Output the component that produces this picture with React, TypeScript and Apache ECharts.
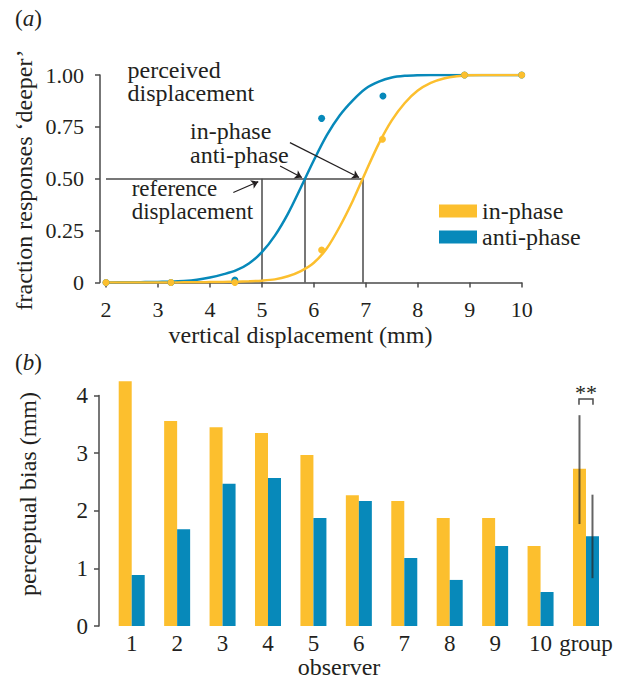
import React, { useEffect, useRef } from 'react';
import * as echarts from 'echarts';

const ORANGE = '#FCBF2E';
const BLUE = '#0789BA';
const INK = '#231F20';
const GREY = '#4A4A4A';
const FONT = "'Liberation Serif', 'Times New Roman', serif";

// ---------- panel (a): psychometric functions ----------
const inPhasePoints = [[2, 0], [3.25, 0], [4.48, 0], [6.15, 0.157], [7.32, 0.69], [8.9, 1], [10, 1]];
const antiPhasePoints = [[2, 0], [3.25, 0], [4.48, 0.012], [6.15, 0.791], [7.33, 0.899], [8.9, 1], [10, 1]];

// fitted curves, every 0.25 mm
const fitX = [
  2, 2.25, 2.5, 2.75, 3, 3.25, 3.5, 3.75, 4, 4.25, 4.5, 4.75, 5, 5.25, 5.5, 5.75, 6, 6.25,
  6.5, 6.75, 7, 7.25, 7.5, 7.75, 8, 8.25, 8.5, 8.75, 9, 9.25, 9.5, 9.75, 10,
];
const inPhaseFitY = [
  0, 0, 0, 0, 0, 0, 0.001, 0.001, 0.002, 0.003, 0.004, 0.006, 0.009, 0.015, 0.03, 0.055, 0.095,
  0.165, 0.27, 0.394, 0.534, 0.669, 0.781, 0.865, 0.925, 0.962, 0.983, 0.994, 0.999, 1, 1, 1, 1,
];
const antiPhaseFitY = [
  0, 0.001, 0.001, 0.002, 0.003, 0.004, 0.007, 0.013, 0.024, 0.039, 0.058, 0.092, 0.146, 0.226,
  0.331, 0.458, 0.589, 0.71, 0.806, 0.878, 0.935, 0.968, 0.988, 0.996, 0.999, 1, 1, 1, 1, 1, 1, 1, 1,
];

const referenceDisplacement = 5.0;
const antiPhasePSE = 5.83;
const inPhasePSE = 6.94;

const guideLines = [
  [[2, 0.5], [inPhasePSE, 0.5]],
  [[referenceDisplacement, 0], [referenceDisplacement, 0.5]],
  [[antiPhasePSE, 0], [antiPhasePSE, 0.5]],
  [[inPhasePSE, 0], [inPhasePSE, 0.5]],
];
const arrowLines = [
  [[4.45, 0.434], [4.93, 0.486]],
  [[5.35, 0.561], [5.77, 0.506]],
  [[5.54, 0.674], [6.87, 0.506]],
];

const xTicksA = { min: 2, max: 10, interval: 1 };
const yTicksA = { min: 0, max: 1, interval: 0.25 };

// ---------- panel (b): perceptual bias ----------
const observers = ['1', '2', '3', '4', '5', '6', '7', '8', '9', '10', 'group'];
const inPhaseBias = [4.25, 3.56, 3.45, 3.35, 2.97, 2.27, 2.17, 1.875, 1.875, 1.39, 2.73];
const antiPhaseBias = [0.885, 1.68, 2.47, 2.57, 1.875, 2.17, 1.18, 0.8, 1.39, 0.59, 1.56];
const groupErrorBars = [
  ['group', 1.77, 3.66, -1],
  ['group', 0.83, 2.28, 1],
];
const significance = [['group', 3.84, 3.94, 4.05, '**']];

const font = (size: number, italic = false) => `${italic ? 'italic ' : ''}${size}px ${FONT}`;

function txt(text: string, x: number, y: number, o: any = {}) {
  const size = o.size || 24;
  return {
    type: 'text',
    x,
    y,
    rotation: o.rotation || 0,
    z: 10,
    style: {
      legacy: false,
      text,
      font: font(size),
      fontSize: size,
      fontFamily: FONT,
      fill: INK,
      align: o.align || 'left',
      verticalAlign: 'middle',
      lineHeight: o.lineHeight,
      rich: o.rich,
    },
  };
}

export default function App() {
  const ref = useRef<HTMLDivElement>(null);

  useEffect(() => {
    document.body.style.margin = '0';
    const chart = echarts.init(ref.current!, null, { renderer: 'svg' });
    const axisLineStyle = { color: GREY, width: 1.5 };
    const richAB = {
      n: { font: font(23), fontSize: 23, fontFamily: FONT, fill: INK, color: INK },
      i: { font: font(23, true), fontSize: 23, fontFamily: FONT, fontStyle: 'italic', fill: INK, color: INK },
    };

    const option: any = {
      animation: false,
      textStyle: { fontFamily: FONT, color: INK },
      grid: [
        { left: 106, top: 75, width: 415.7, height: 207.5 },
        { left: 109, top: 395.6, width: 499.7, height: 230.4 },
      ],
      xAxis: [
        {
          type: 'value', gridIndex: 0, ...xTicksA, offset: 6.5,
          axisLine: { show: true, lineStyle: axisLineStyle },
          axisTick: { show: true, length: 5, lineStyle: axisLineStyle },
          axisLabel: { margin: 9, fontSize: 22, color: INK, fontFamily: FONT },
          splitLine: { show: false },
        },
        {
          type: 'category', gridIndex: 1, data: observers,
          axisLine: { show: false }, axisTick: { show: false },
          axisLabel: { margin: 6, fontSize: 23, color: INK, fontFamily: FONT, interval: 0 },
          splitLine: { show: false },
        },
      ],
      yAxis: [
        {
          type: 'value', gridIndex: 0, ...yTicksA, offset: 6,
          axisLine: { show: true, lineStyle: axisLineStyle },
          axisTick: { show: true, length: 5, lineStyle: axisLineStyle },
          axisLabel: {
            margin: 16, fontSize: 22, color: INK, fontFamily: FONT,
            formatter: (v: number) => (v === 0 ? '0' : v.toFixed(2)),
          },
          splitLine: { show: false },
        },
        {
          type: 'value', gridIndex: 1, min: 0, max: 4, interval: 1, offset: 10,
          axisLine: { show: true, lineStyle: axisLineStyle },
          axisTick: { show: true, length: 5, lineStyle: axisLineStyle },
          axisLabel: { margin: 11, fontSize: 23, color: INK, fontFamily: FONT },
          splitLine: { show: false },
        },
      ],
      legend: {
        orient: 'vertical', left: 439, top: 198, padding: 0,
        itemWidth: 38, itemHeight: 13, itemGap: 0, selectedMode: false,
        data: [{ name: 'in-phase', icon: 'rect' }, { name: 'anti-phase', icon: 'rect' }],
        textStyle: { fontSize: 24, fontFamily: FONT, color: INK, lineHeight: 26 },
      },
      graphic: [
        txt('{n|(}{i|a}{n|)}', 15, 18.7, { rich: richAB }),
        txt('{n|(}{i|b}{n|)}', 15, 362.7, { rich: richAB }),
        txt('fraction responses ‘deeper’', 24, 180, { rotation: Math.PI / 2, align: 'center' }),
        txt('vertical displacement (mm)', 300.5, 335.4, { align: 'center' }),
        txt('perceived\ndisplacement', 127.5, 81.2, { lineHeight: 23.4 }),
        txt('in-phase\nanti-phase', 190, 142.5, { lineHeight: 24 }),
        txt('reference\ndisplacement', 131.7, 200.2, { lineHeight: 23, size: 23 }),
        txt('perceptual bias (mm)', 28, 494, { rotation: Math.PI / 2, align: 'center' }),
        txt('observer', 339, 667, { align: 'center' }),
      ],
      series: [
        {
          name: 'anti-phase fit', type: 'line', xAxisIndex: 0, yAxisIndex: 0,
          data: fitX.map((x, i) => [x, antiPhaseFitY[i]]), showSymbol: false, smooth: 0.3,
          lineStyle: { color: BLUE, width: 2.5 }, itemStyle: { color: BLUE }, z: 3,
        },
        {
          name: 'in-phase fit', type: 'line', xAxisIndex: 0, yAxisIndex: 0,
          data: fitX.map((x, i) => [x, inPhaseFitY[i]]), showSymbol: false, smooth: 0.3,
          lineStyle: { color: ORANGE, width: 2.5 }, itemStyle: { color: ORANGE }, z: 4,
        },
        {
          name: 'anti-phase data', type: 'scatter', xAxisIndex: 0, yAxisIndex: 0,
          data: antiPhasePoints, symbolSize: 7, itemStyle: { color: BLUE, opacity: 1 }, z: 5,
        },
        {
          name: 'in-phase data', type: 'scatter', xAxisIndex: 0, yAxisIndex: 0,
          data: inPhasePoints, symbolSize: 7, itemStyle: { color: ORANGE, opacity: 1 }, z: 6,
        },
        {
          name: 'guides', type: 'lines', coordinateSystem: 'cartesian2d', xAxisIndex: 0, yAxisIndex: 0,
          data: guideLines.map((c) => ({ coords: c })), symbol: 'none',
          lineStyle: { color: GREY, width: 1.5, opacity: 1 }, z: 2, silent: true,
        },
        {
          name: 'arrows', type: 'lines', coordinateSystem: 'cartesian2d', xAxisIndex: 0, yAxisIndex: 0,
          data: arrowLines.map((c) => ({ coords: c })), symbol: ['none', 'arrow'], symbolSize: 7,
          lineStyle: { color: INK, width: 1.2, opacity: 1 }, z: 7, silent: true,
        },
        {
          name: 'in-phase', type: 'bar', xAxisIndex: 1, yAxisIndex: 1, data: inPhaseBias,
          barWidth: 13, barGap: '0%', clip: false, itemStyle: { color: ORANGE },
        },
        {
          name: 'anti-phase', type: 'bar', xAxisIndex: 1, yAxisIndex: 1, data: antiPhaseBias,
          barWidth: 13, barGap: '0%', clip: false, itemStyle: { color: BLUE },
        },
        {
          name: 'error', type: 'custom', xAxisIndex: 1, yAxisIndex: 1, data: groupErrorBars,
          encode: { x: 0, y: [1, 2] }, z: 10, silent: true,
          renderItem: (params: any, api: any) => {
            const lo = api.coord([api.value(0), api.value(1)]);
            const hi = api.coord([api.value(0), api.value(2)]);
            const dx = api.value(3) * 6.5;
            return {
              type: 'line',
              shape: { x1: lo[0] + dx, y1: lo[1], x2: hi[0] + dx, y2: hi[1] },
              style: { stroke: 'rgba(40,40,40,0.72)', lineWidth: 2 },
            };
          },
        },
        {
          name: 'significance', type: 'custom', xAxisIndex: 1, yAxisIndex: 1, data: significance,
          encode: { x: 0, y: [1, 2] }, z: 10, silent: true, clip: false,
          renderItem: (params: any, api: any) => {
            const leg = api.coord([api.value(0), api.value(1)]);
            const top = api.coord([api.value(0), api.value(2)]);
            const star = api.coord([api.value(0), api.value(3)]);
            const cx = leg[0];
            return {
              type: 'group',
              children: [
                {
                  type: 'polyline',
                  shape: { points: [[cx - 7, leg[1]], [cx - 7, top[1]], [cx + 7, top[1]], [cx + 7, leg[1]]] },
                  style: { stroke: GREY, lineWidth: 1.5, fill: null },
                },
                {
                  type: 'text',
                  x: cx,
                  y: star[1],
                  style: {
                    text: '**', font: font(22), fill: INK,
                    align: 'center', verticalAlign: 'middle',
                  },
                },
              ],
            };
          },
        },
      ],
    };

    chart.setOption(option);
    return () => chart.dispose();
  }, []);

  return <div ref={ref} style={{ width: 634, height: 680 }} />;
}
